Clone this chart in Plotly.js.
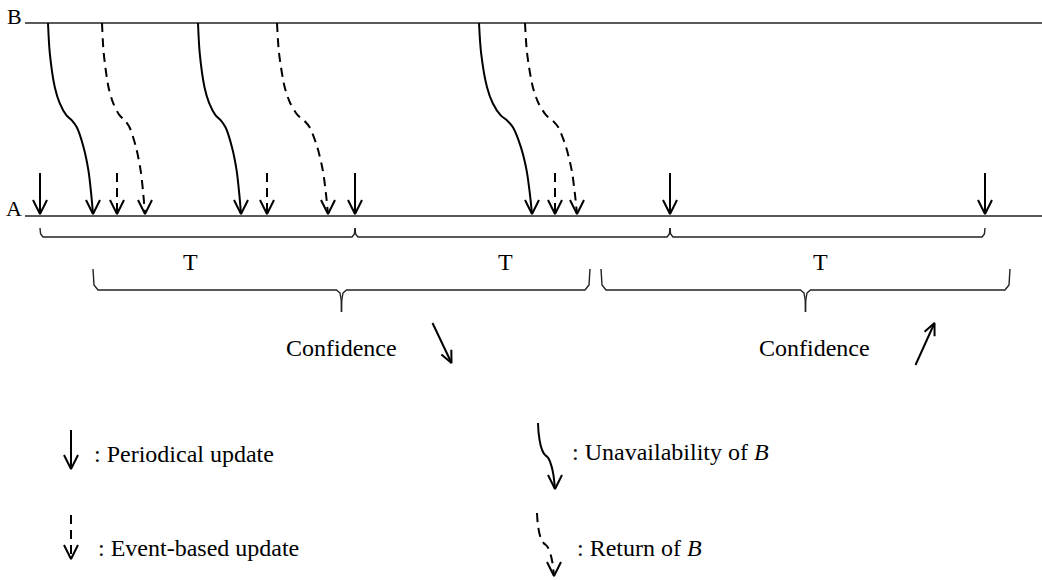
<!DOCTYPE html>
<html><head><meta charset="utf-8">
<script src="https://cdn.plot.ly/plotly-3.0.1.min.js"></script>
<style>html,body{margin:0;padding:0;background:#fff}#chart{width:1042px;height:580px}</style>
</head><body><div id="chart"></div>
<script>
// ---------------- DATA (diagram time units = axis units) ----------------
const timelineStart = 25;
const timelineEnd = 1042;
const periodicUpdates = [40, 355, 670, 985];
const eventUpdates = [117, 267, 555];
const unavailStart = [48, 198, 479];
const unavailEnd = [93, 241, 532];
const returnStart = [102, 277, 525];
const returnEnd = [145, 328, 577];
const periodLabels = ['T', 'T', 'T'];
const confidenceFrom = [93, 601];
const confidenceTo = [590, 1010];
const confidenceLabels = ['Confidence', 'Confidence'];
const confidenceTrend = ['down', 'up'];
const nodeLabels = ['B', 'A'];
const legendLabels = [': Periodical update', ': Event-based update',
  ': Unavailability of <i>B</i>', ': Return of <i>B</i>'];

// ---------------- STYLE / LAYOUT CONSTANTS ----------------
const Y = {B: 23, A: 216, tip: 214, updTop: 173, perHook: 228, perLine: 237,
  confHook: 269, confLine: 290, confTick: 312, tLabel: 262, confLabel: 348};
const FONT = "'Liberation Serif','Times New Roman',serif";
const BLACK = '#000';
const DASH = '9px,6px';
// S-shaped curve template: [fraction of dx, fraction of dy]
const TPL = [[0,0],[0.04,0.158],[0.15,0.335],[0.26,0.42],[0.41,0.484],[0.53,0.51],
  [0.64,0.546],[0.79,0.65],[0.9,0.774],[0.96,0.895],[1,1]];

const traces = [];
const annotations = [];

function line(xs, ys, o) {
  o = o || {};
  traces.push({type: 'scatter', mode: 'lines', x: xs, y: ys, hoverinfo: 'skip', showlegend: false,
    line: {color: o.color || BLACK, width: o.width || 2, dash: o.dash || 'solid',
      shape: o.shape || 'linear', smoothing: o.smoothing || 1}});
}
function head(tx, ty, fx, fy, L, W) {
  const dx = tx - fx, dy = ty - fy, n = Math.hypot(dx, dy);
  const ux = dx / n, uy = dy / n, px = -uy, py = ux;
  line([tx - L*ux + W*px, tx, tx - L*ux - W*px], [ty - L*uy + W*py, ty, ty - L*uy - W*py], {width: 2});
}
function sCurve(x0, y0, x1, y1, dash, L, W) {
  const xs = TPL.map(p => x0 + p[0]*(x1 - x0));
  const ys = TPL.map(p => y0 + p[1]*(y1 - y0));
  line(xs, ys, {dash: dash, shape: 'spline', smoothing: 0.8});
  head(x1, y1, x1, ys[0], L, W);
}
function text(x, y, t, size, xanchor, extra) {
  annotations.push(Object.assign({x: x, y: y, xref: 'x', yref: 'y', text: t, showarrow: false,
    xanchor: xanchor || 'center', yanchor: 'middle',
    font: {family: FONT, size: size, color: BLACK}}, extra || {}));
}

// timelines B and A
line([timelineStart, timelineEnd], [Y.B, Y.B], {color: '#5a5a5a', width: 2});
line([timelineStart, timelineEnd], [Y.A, Y.A], {color: '#5a5a5a', width: 2});
text(24, Y.B - 7, nodeLabels[0], 22, 'right');
text(24, Y.A - 8, nodeLabels[1], 22, 'right');

// periodic updates
periodicUpdates.forEach(x => {
  line([x, x], [Y.updTop, Y.tip]);
  head(x, Y.tip, x, Y.updTop, 14, 7);
});
// event-based updates
eventUpdates.forEach(x => {
  line([x, x], [Y.updTop, Y.tip - 2], {dash: DASH});
  head(x, Y.tip, x, Y.updTop, 14, 7);
});
// unavailability of B
unavailStart.forEach((x0, i) => sCurve(x0, Y.B, unavailEnd[i], Y.tip, 'solid', 14, 7));
// return of B
returnStart.forEach((x0, i) => sCurve(x0, Y.B, returnEnd[i], Y.tip, DASH, 14, 7));

// period brackets
for (let i = 0; i < periodicUpdates.length - 1; i++) {
  const a = periodicUpdates[i], b = periodicUpdates[i+1];
  line([a, a + 0.6, a + 3, b - 3, b - 0.6, b],
       [Y.perHook, Y.perLine - 3, Y.perLine, Y.perLine, Y.perLine - 3, Y.perHook],
       {color: '#222', width: 1.4});
  text((a + b) / 2 - 7, Y.tLabel, periodLabels[i], 24);
}

// confidence braces
const confTextShift = [0, 9];
confidenceFrom.forEach((a, i) => {
  const b = confidenceTo[i], c = (a + b) / 2;
  line([a, a + 1, a + 5, c - 5, c - 1.5, c - 0.3, c],
       [Y.confHook, Y.confLine - 5, Y.confLine, Y.confLine, Y.confLine + 3, Y.confLine + 10, Y.confTick],
       {color: '#222', width: 1.4});
  line([c, c + 0.3, c + 1.5, c + 5, b - 5, b - 1, b],
       [Y.confTick, Y.confLine + 10, Y.confLine + 3, Y.confLine, Y.confLine, Y.confLine - 5, Y.confHook],
       {color: '#222', width: 1.4});
  const tx = c + confTextShift[i];
  text(tx, Y.confLabel, confidenceLabels[i], 24);
  if (confidenceTrend[i] === 'down') {
    const x0 = c + 91, y0 = 323, x1 = c + 110, y1 = 363;
    line([x0, x1], [y0, y1]);
    head(x1, y1, x0, y0, 12, 5.5);
  } else {
    const x0 = c + 110, y0 = 365, x1 = c + 129, y1 = 323;
    line([x0, x1], [y0, y1]);
    head(x1, y1, x0, y0, 12, 5.5);
  }
});

// legend
line([71, 71], [430, 469]);
head(71, 469, 71, 430, 14, 7);
text(92, 454, legendLabels[0], 24, 'left');

line([71, 71], [515, 557], {dash: DASH});
head(71, 559, 71, 515, 14, 7);
text(96, 548, legendLabels[1], 24, 'left');

sCurve(538, 423, 555, 489, 'solid', 14, 7);
text(570, 452, legendLabels[2], 24, 'left');

sCurve(537, 513, 554, 576, DASH, 14, 7);
text(575, 548, legendLabels[3], 24, 'left');

const layout = {
  width: 1042, height: 580,
  margin: {l: 0, r: 0, t: 0, b: 0, pad: 0},
  paper_bgcolor: '#fff', plot_bgcolor: '#fff',
  xaxis: {range: [0, 1042], visible: false, fixedrange: true},
  yaxis: {range: [580, 0], visible: false, fixedrange: true},
  showlegend: false,
  annotations: annotations
};
Plotly.newPlot('chart', traces, layout, {staticPlot: true, displayModeBar: false});
</script>
</body></html>
